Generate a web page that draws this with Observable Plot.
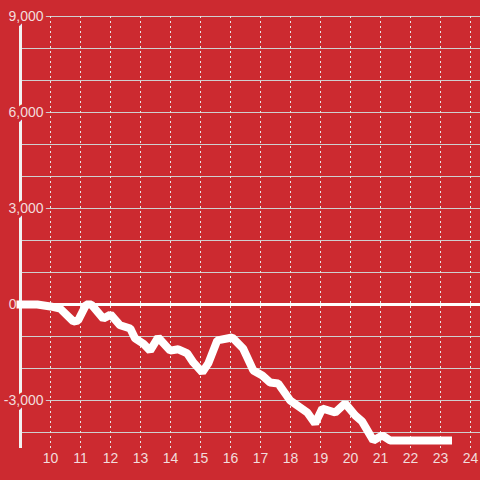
<!DOCTYPE html>
<html>
<head>
<meta charset="utf-8">
<script src="https://cdn.jsdelivr.net/npm/d3@7"></script>
<script src="https://cdn.jsdelivr.net/npm/@observablehq/plot@0.6"></script>
<style>
  html, body { margin: 0; padding: 0; background: #cc2a30; }
  #chart svg { display: block; }
</style>
</head>
<body>
<div id="chart"></div>
<script>
// time of day (hours) and values
const hours = [9.0, 9.56, 10.0, 10.32, 10.76, 10.92, 11.19, 11.36, 11.76, 11.96, 12.0, 12.32, 12.66, 12.82, 13.09, 13.32, 13.59, 13.99, 14.26, 14.56, 14.76, 15.06, 15.26, 15.56, 16.06, 16.42, 16.76, 17.06, 17.32, 17.59, 17.99, 18.56, 18.82, 19.06, 19.49, 19.82, 20.16, 20.39, 20.76, 21.06, 21.32, 23.25];
const values = [0, 0, -60, -125, -530, -500, 0, 0, -440, -340, -310, -650, -750, -1060, -1220, -1440, -1030, -1440, -1400, -1530, -1810, -2120, -1840, -1120, -1030, -1375, -2060, -2220, -2440, -2470, -3000, -3375, -3720, -3250, -3375, -3090, -3470, -3660, -4250, -4090, -4250, -4250];

const xTicks = [10, 11, 12, 13, 14, 15, 16, 17, 18, 19, 20, 21, 22, 23, 24];
const yGrid = [-4000, -3000, -2000, -1000, 1000, 2000, 3000, 4000, 5000, 6000, 7000, 8000, 9000];
const yLabels = [9000, 6000, 3000, -3000];
const zeroLabel = [0];

const data = hours.map((h, i) => ({hour: h, value: values[i]}));

const bg = "#cc2a30";
const textColor = "#f2dcdc";
const fmt = v => v.toLocaleString("en-US");

const chart = Plot.plot({
  width: 480,
  height: 480,
  marginLeft: 20,
  marginRight: 0,
  marginTop: 16,
  marginBottom: 32,
  style: {background: bg, fontFamily: "'Liberation Sans', Arial, sans-serif", fontSize: "14px", color: textColor},
  x: {domain: [9, 9 + 460 / 30], axis: null, label: null},
  y: {domain: [-4500, 9000], axis: null, label: null},
  marks: [
    Plot.ruleY(yGrid, {stroke: "#cfcfcf", strokeWidth: 1}),
    Plot.ruleX(xTicks, {stroke: "#e6e6e6", strokeWidth: 1, strokeDasharray: "2,3"}),
    Plot.ruleX([9], {stroke: "#f2f2f2", strokeWidth: 3}),
    Plot.ruleY(zeroLabel, {stroke: "#ffffff", strokeWidth: 3}),
    Plot.text(yLabels, {y: d => d, text: d => fmt(d), frameAnchor: "left", textAnchor: "end", dx: 23, fill: textColor, stroke: bg, strokeWidth: 6, fontSize: 14}),
    Plot.text(zeroLabel, {y: d => d, text: d => fmt(d), frameAnchor: "left", textAnchor: "end", dx: -4, fill: textColor, fontSize: 14}),
    Plot.line(data, {x: "hour", y: "value", stroke: "#ffffff", strokeWidth: 8, strokeLinecap: "square", strokeLinejoin: "miter"}),
    Plot.axisX(xTicks, {tickSize: 0, tickPadding: 5, fill: textColor, fontSize: 14, label: null, tickFormat: d => String(d)})
  ]
});
document.getElementById("chart").appendChild(chart);
</script>
</body>
</html>
